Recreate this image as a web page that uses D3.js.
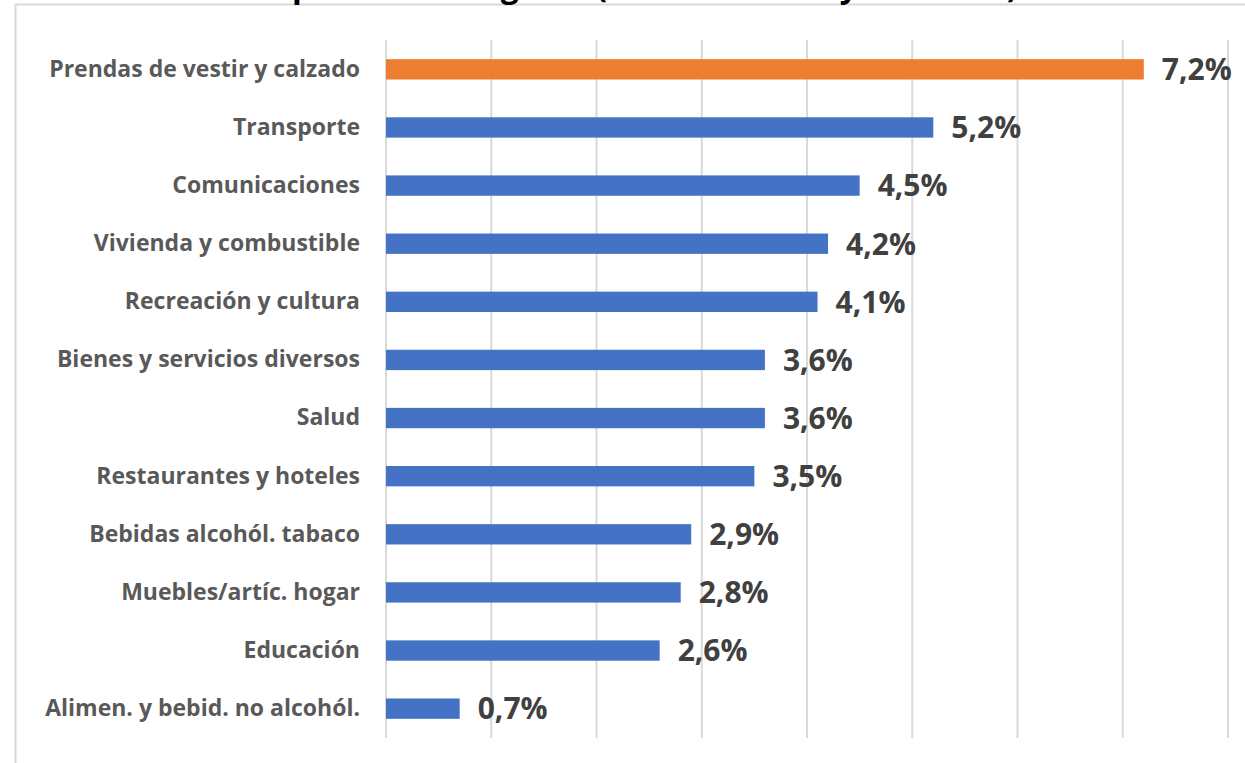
<!DOCTYPE html>
<html>
<head>
<meta charset="utf-8">
<script src="https://cdn.jsdelivr.net/npm/d3@7"></script>
<style>
  body { margin: 0; background: #fff; }
  svg { display: block; }
</style>
</head>
<body>
<div id="chart"></div>
<script>
// data
var categories = [
    "Prendas de vestir y calzado",
    "Transporte",
    "Comunicaciones",
    "Vivienda y combustible",
    "Recreación y cultura",
    "Bienes y servicios diversos",
    "Salud",
    "Restaurantes y hoteles",
    "Bebidas alcohól. tabaco",
    "Muebles/artíc. hogar",
    "Educación",
    "Alimen. y bebid. no alcohól."
];
var values = [7.2, 5.2, 4.5, 4.2, 4.1, 3.6, 3.6, 3.5, 2.9, 2.8, 2.6, 0.7];
var highlight = ["Prendas de vestir y calzado"];
var xTicks = [0, 1, 2, 3, 4, 5, 6, 7, 8];
// the title is cut off by the top edge in the original, only descenders show
var titleText = "Inflación por rubro de gasto (12 meses a mayo de 2024)";

var width = 1245, height = 763;
var margin = {top: 40, right: 17, bottom: 25, left: 386};
var font = "'Open Sans', sans-serif";

var svg = d3.select("#chart")
    .append("svg")
    .attr("width", width)
    .attr("height", height);

// chart frame
svg.append("rect")
    .attr("x", 15.5)
    .attr("y", 4.5)
    .attr("width", width)
    .attr("height", height)
    .attr("fill", "#fff")
    .attr("stroke", "#d9d9d9")
    .attr("stroke-width", 2);

// title
var title = svg.append("text")
    .attr("x", 0)
    .attr("y", -3)
    .attr("font-family", font)
    .attr("font-weight", "bold")
    .attr("font-size", 32)
    .attr("fill", "#000")
    .text(titleText);
// line the "p" of "por" up with the reference
var pre = title.node().getSubStringLength(0, titleText.indexOf("por"));
title.attr("x", 292 - pre);

var x = d3.scaleLinear()
    .domain([0, 8])
    .range([margin.left, width - margin.right]);

var y = d3.scaleBand()
    .domain(categories)
    .range([margin.top, height - margin.bottom])
    .paddingInner(0.65)
    .paddingOuter(0.33);

// gridlines
svg.append("g")
    .selectAll("line")
    .data(xTicks)
    .enter()
    .append("line")
    .attr("x1", function (d) { return x(d); })
    .attr("x2", function (d) { return x(d); })
    .attr("y1", margin.top)
    .attr("y2", height - margin.bottom)
    .attr("stroke", "#d9d9d9")
    .attr("stroke-width", 2);

// category labels
var yAxis = svg.append("g")
    .attr("transform", "translate(" + margin.left + ",0)")
    .call(d3.axisLeft(y).tickSize(0).tickPadding(26));
yAxis.select(".domain").remove();
yAxis.selectAll("text")
    .attr("font-family", font)
    .attr("font-weight", "bold")
    .attr("font-size", 23)
    .attr("fill", "#595959");

// bars
svg.append("g")
    .selectAll("rect")
    .data(values)
    .enter()
    .append("rect")
    .attr("x", x(0))
    .attr("y", function (d, i) { return y(categories[i]); })
    .attr("width", function (d) { return x(d) - x(0); })
    .attr("height", y.bandwidth())
    .attr("fill", function (d, i) {
        return highlight.indexOf(categories[i]) >= 0 ? "#ED7D31" : "#4472C4";
    });

// value labels, decimal comma
var es = d3.formatLocale({decimal: ",", thousands: ".", grouping: [3], currency: ["", "€"]});
var fmt = es.format(".1f");

svg.append("g")
    .selectAll("text")
    .data(values)
    .enter()
    .append("text")
    .attr("x", function (d) { return x(d) + 18; })
    .attr("y", function (d, i) { return y(categories[i]) + y.bandwidth() / 2; })
    .attr("dy", "0.36em")
    .attr("font-family", font)
    .attr("font-weight", "bold")
    .attr("font-size", 30)
    .attr("fill", "#404040")
    .text(function (d) { return fmt(d) + "%"; });
</script>
</body>
</html>
